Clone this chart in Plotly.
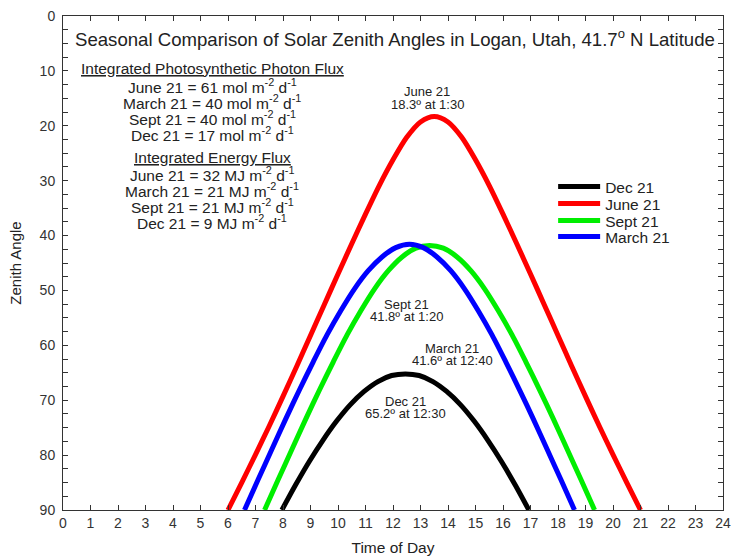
import plotly.graph_objects as go

# ---------------- data ----------------
dec_t = [7.96, 8.45, 8.95, 9.45, 9.95, 10.45, 10.95, 11.45, 11.95, 12.45,
         12.95, 13.45, 13.95, 14.45, 14.95, 15.45, 15.95, 16.45, 16.94]
dec_z = [90, 85.5, 81.2, 77.3, 73.8, 70.8, 68.4, 66.6, 65.5, 65.2,
         65.5, 66.6, 68.4, 70.8, 73.8, 77.3, 81.2, 85.5, 90]

june_t = [6.0, 6.5, 7.0, 7.5, 8.0, 8.5, 9.0, 9.5, 10.0, 10.5, 11.0, 11.5, 12.0, 12.5, 13.0,
          13.5, 14.0, 14.5, 15.0, 15.5, 16.0, 16.5, 17.0, 17.5, 18.0, 18.5, 19.0, 19.5,
          20.0, 20.5, 21.0]
june_z = [90, 85.0, 79.9, 74.7, 69.3, 63.8, 58.2, 52.6, 47.0, 41.5, 36.1, 30.9, 26.2, 22.1, 19.3,
          18.3, 19.3, 22.1, 26.2, 30.9, 36.1, 41.5, 47.0, 52.6, 58.2, 63.8, 69.3, 74.7,
          79.9, 85.0, 90]

sept_t = [7.33, 7.83, 8.33, 8.83, 9.33, 9.83, 10.33, 10.83, 11.33, 11.83, 12.33, 12.83,
          13.33, 13.83, 14.33, 14.83, 15.33, 15.83, 16.33, 16.83, 17.33, 17.83, 18.33,
          18.83, 19.33]
sept_z = [90, 84.4, 78.9, 73.4, 68.1, 63.0, 58.1, 53.7, 49.7, 46.4, 43.9, 42.3,
          41.8, 42.3, 43.9, 46.4, 49.7, 53.7, 58.1, 63.0, 68.1, 73.4, 78.9, 84.4, 90]

mar_t = [6.6, 7.1, 7.6, 8.1, 8.6, 9.1, 9.6, 10.1, 10.6, 11.1, 11.6, 12.1,
         12.6, 13.1, 13.6, 14.1, 14.6, 15.1, 15.6, 16.1, 16.6, 17.1, 17.6, 18.1, 18.6]
mar_z = [90, 84.4, 78.9, 73.4, 68.1, 63.0, 58.1, 53.7, 49.7, 46.4, 43.9, 42.2,
         41.6, 42.2, 43.9, 46.4, 49.7, 53.7, 58.1, 63.0, 68.1, 73.4, 78.9, 84.4, 90]

series_names = ["Dec 21", "June 21", "Sept 21", "March 21"]
series_colors = ["#000000", "#ff0000", "#00ee00", "#0000ff"]

x_ticks = list(range(0, 25))
y_ticks = list(range(0, 91, 10))

title_text = "Seasonal Comparison of Solar Zenith Angles in Logan, Utah, 41.7<sup>o</sup> N Latitude"
flux_lines = [
    "<u>Integrated Photosynthetic Photon Flux</u>",
    "June 21 = 61 mol m<sup>-2</sup> d<sup>-1</sup>",
    "March 21 = 40 mol m<sup>-2</sup> d<sup>-1</sup>",
    "Sept 21 = 40 mol m<sup>-2</sup> d<sup>-1</sup>",
    "Dec 21 = 17 mol m<sup>-2</sup> d<sup>-1</sup>",
    "<u>Integrated Energy Flux</u>",
    "June 21 = 32 MJ m<sup>-2</sup> d<sup>-1</sup>",
    "March 21 = 21 MJ m<sup>-2</sup> d<sup>-1</sup>",
    "Sept 21 = 21 MJ m<sup>-2</sup> d<sup>-1</sup>",
    "Dec 21 = 9 MJ m<sup>-2</sup> d<sup>-1</sup>",
]
peak_labels = [
    ("June 21", "18.3º at 1:30"),
    ("Sept 21", "41.8º at 1:20"),
    ("March 21", "41.6º at 12:40"),
    ("Dec 21", "65.2º at 12:30"),
]

# ---------------- figure ----------------
W, H = 731, 556
L, R, T, B = 62.5, 8, 16, 46
pw, ph = W - L - R, H - T - B
FONT = "Arial, Liberation Sans, sans-serif"
TXT = "#222222"


def px(x):
    return (x - L) / pw


def py(y):
    return (H - B - y) / ph


fig = go.Figure()
legend_ids = ["legend", "legend2", "legend3", "legend4"]
for name, color, t, z, lg in zip(series_names, series_colors,
                                 [dec_t, june_t, sept_t, mar_t],
                                 [dec_z, june_z, sept_z, mar_z], legend_ids):
    fig.add_trace(go.Scatter(x=t, y=z, mode="lines", name=name, legend=lg,
                             line=dict(color=color, width=5, shape="spline", smoothing=0.8)))

annotations = []
annotations.append(dict(text=title_text, x=px(395), y=py(38), xref="paper", yref="paper",
                        showarrow=False, font=dict(size=18.6, color=TXT, family=FONT),
                        xanchor="center", yanchor="middle"))

flux_y = [68, 86, 102, 118, 134, 157, 174, 190, 206, 222]
for txt, yy in zip(flux_lines, flux_y):
    annotations.append(dict(text=txt, x=px(212), y=py(yy), xref="paper", yref="paper",
                            showarrow=False, font=dict(size=15.5, color=TXT, family=FONT),
                            xanchor="center", yanchor="middle"))

peak_pos = [(427, 91, 104), (406, 304, 316), (452, 348, 360), (405, 401, 413)]
for (l1, l2), (xx, y1, y2) in zip(peak_labels, peak_pos):
    for txt, yy in ((l1, y1), (l2, y2)):
        annotations.append(dict(text=txt, x=px(xx), y=py(yy), xref="paper", yref="paper",
                                showarrow=False, font=dict(size=13, color=TXT, family=FONT),
                                xanchor="center", yanchor="middle"))

axis_common = dict(showline=True, linecolor="#333333", linewidth=1, mirror="ticks",
                   ticks="inside", ticklen=5, tickcolor="#333333", showgrid=False,
                   zeroline=False, automargin=False,
                   tickfont=dict(size=14, color="#333333", family=FONT))

legend_y = [187, 204, 221, 237]
legend_layout = {}
for lg, yy in zip(legend_ids, legend_y):
    legend_layout[lg] = dict(x=px(553), y=py(yy), xanchor="left", yanchor="middle",
                             font=dict(size=15.5, color=TXT, family=FONT),
                             bgcolor="rgba(0,0,0,0)", itemwidth=42,
                             borderwidth=0)

fig.update_layout(
    width=W, height=H,
    margin=dict(l=L, r=R, t=T, b=B),
    paper_bgcolor="white", plot_bgcolor="white",
    font=dict(family=FONT, color=TXT),
    showlegend=True,
    xaxis=dict(range=[0, 24], tickvals=x_ticks, ticktext=[str(v) for v in x_ticks],
               title=dict(text="Time of Day", font=dict(size=15.5, color=TXT, family=FONT),
                          standoff=14),
               **axis_common),
    yaxis=dict(range=[90, 0], tickvals=y_ticks, ticktext=[str(v) for v in y_ticks],
               minor=dict(dtick=2.5, ticks="inside", ticklen=5, tickcolor="#333333"),
               ticklabelstandoff=4,
               title=dict(text="Zenith Angle", font=dict(size=15, color=TXT, family=FONT),
                          standoff=14),
               **axis_common),
    annotations=annotations,
    **legend_layout,
)

fig.write_html("out.html")
